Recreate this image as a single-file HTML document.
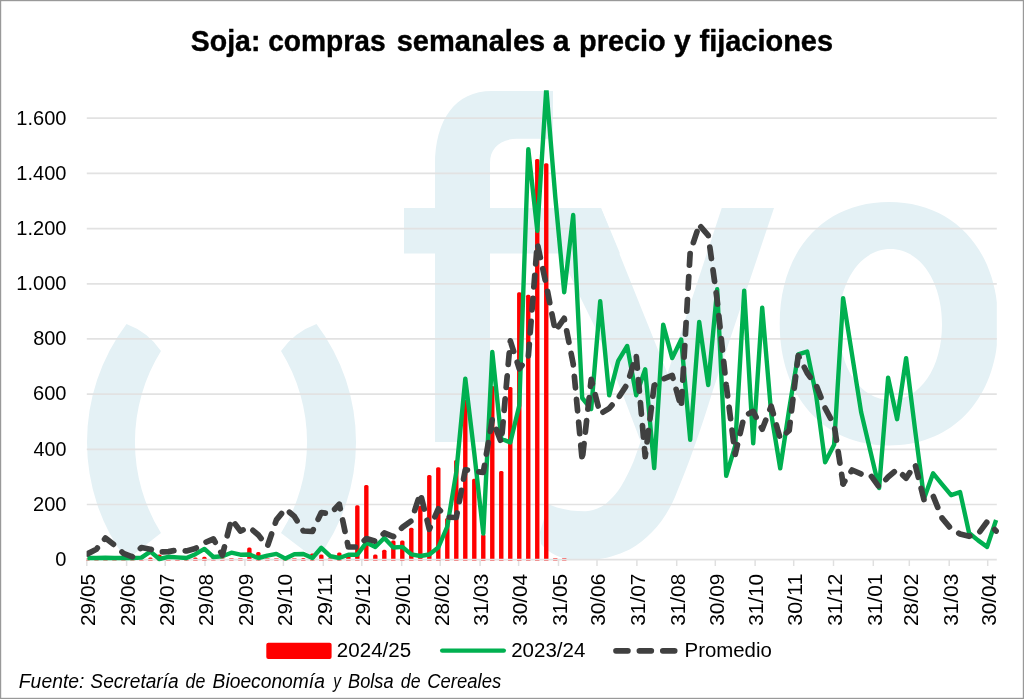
<!DOCTYPE html>
<html><head><meta charset="utf-8"><title>Soja: compras semanales a precio y fijaciones</title>
<style>
html,body{margin:0;padding:0;background:#fff;}
body{width:1024px;height:699px;overflow:hidden;font-family:"Liberation Sans",sans-serif;}
svg{display:block;will-change:transform;}
text{font-family:"Liberation Sans",sans-serif;fill:#000;}
</style></head><body>
<svg width="1024" height="699" viewBox="0 0 1024 699">
<defs><clipPath id="pc"><rect x="86.8" y="90.5" width="910.0" height="469.2"/></clipPath><clipPath id="pc2"><rect x="86.6" y="90.3" width="916.0" height="480"/></clipPath></defs>
<g fill="#e4f1f5" clip-path="url(#pc)">
<path d="M126.5,324 A196,196 0 0 0 126.5,560 L161,533 A172,172 0 0 1 161,351 Q148.2,332.1 126.5,324 Z"/>
<path d="M316.5,324 A196,196 0 0 1 316.5,560 L281,533 A172,172 0 0 0 281,351 Q294.3,332.1 316.5,324 Z"/>
<path d="M435,442 L435,253.5 L404,253.5 L404,208 L435,208 L435,165 C435,120 455,91 492,91 L553,91 L553,138.7 L517,138.7 C500,139 490,148 490,163 L490,208 L601,208 L620,253.5 L490,253.5 L490,442 Z"/>
<path d="M543,208 L601,208 L667.5,373.4 L721.7,208 L774,208 L713,390 C700,432 690,461 675,497 C665,520 650,538 629.6,549.6 C612,558 596,561 577.7,560.5 C565,560 550,555 541,544 L540,532 L548.5,504 C556,508 570,511.5 586,511.3 C597,510 603,506 606.7,503 C613,497 617,493 621,486.4 C626,478 630,470 633.5,461.5 L640.7,441.5 L624,397.7 L595.6,328.6 L579.7,296 L560,253.5 Z"/>
<path fill-rule="evenodd" d="M779.7,323.7 C779.7,250.7 823.4,202.0 889.0,202.0 C954.6,202.0 998.3,250.7 998.3,323.7 C998.3,396.7 954.6,445.4 889.0,445.4 C823.4,445.4 779.7,396.7 779.7,323.7 Z M838.8,324.5 C838.8,281.1 860.7,249.1 890.4,249.1 C920.1,249.1 942.0,281.1 942.0,324.5 C942.0,367.9 920.1,399.9 890.4,399.9 C860.7,399.9 838.8,367.9 838.8,324.5 Z"/>
</g>
<line x1="86.8" x2="996.8" y1="504.5" y2="504.5" stroke="#e2e2e2" stroke-width="1.7"/>
<line x1="86.8" x2="996.8" y1="449.3" y2="449.3" stroke="#e2e2e2" stroke-width="1.7"/>
<line x1="86.8" x2="996.8" y1="394.1" y2="394.1" stroke="#e2e2e2" stroke-width="1.7"/>
<line x1="86.8" x2="996.8" y1="338.9" y2="338.9" stroke="#e2e2e2" stroke-width="1.7"/>
<line x1="86.8" x2="996.8" y1="283.8" y2="283.8" stroke="#e2e2e2" stroke-width="1.7"/>
<line x1="86.8" x2="996.8" y1="228.6" y2="228.6" stroke="#e2e2e2" stroke-width="1.7"/>
<line x1="86.8" x2="996.8" y1="173.4" y2="173.4" stroke="#e2e2e2" stroke-width="1.7"/>
<line x1="86.8" x2="996.8" y1="118.2" y2="118.2" stroke="#e2e2e2" stroke-width="1.7"/>
<line x1="86.8" x2="86.8" y1="559.7" y2="566" stroke="#e0e0e0" stroke-width="1.5"/>
<line x1="126.6" x2="126.6" y1="559.7" y2="566" stroke="#e0e0e0" stroke-width="1.5"/>
<line x1="165.2" x2="165.2" y1="559.7" y2="566" stroke="#e0e0e0" stroke-width="1.5"/>
<line x1="205.0" x2="205.0" y1="559.7" y2="566" stroke="#e0e0e0" stroke-width="1.5"/>
<line x1="244.9" x2="244.9" y1="559.7" y2="566" stroke="#e0e0e0" stroke-width="1.5"/>
<line x1="283.4" x2="283.4" y1="559.7" y2="566" stroke="#e0e0e0" stroke-width="1.5"/>
<line x1="323.3" x2="323.3" y1="559.7" y2="566" stroke="#e0e0e0" stroke-width="1.5"/>
<line x1="361.8" x2="361.8" y1="559.7" y2="566" stroke="#e0e0e0" stroke-width="1.5"/>
<line x1="401.7" x2="401.7" y1="559.7" y2="566" stroke="#e0e0e0" stroke-width="1.5"/>
<line x1="440.2" x2="440.2" y1="559.7" y2="566" stroke="#e0e0e0" stroke-width="1.5"/>
<line x1="480.1" x2="480.1" y1="559.7" y2="566" stroke="#e0e0e0" stroke-width="1.5"/>
<line x1="518.6" x2="518.6" y1="559.7" y2="566" stroke="#e0e0e0" stroke-width="1.5"/>
<line x1="558.5" x2="558.5" y1="559.7" y2="566" stroke="#e0e0e0" stroke-width="1.5"/>
<line x1="597.0" x2="597.0" y1="559.7" y2="566" stroke="#e0e0e0" stroke-width="1.5"/>
<line x1="636.9" x2="636.9" y1="559.7" y2="566" stroke="#e0e0e0" stroke-width="1.5"/>
<line x1="676.7" x2="676.7" y1="559.7" y2="566" stroke="#e0e0e0" stroke-width="1.5"/>
<line x1="715.3" x2="715.3" y1="559.7" y2="566" stroke="#e0e0e0" stroke-width="1.5"/>
<line x1="755.1" x2="755.1" y1="559.7" y2="566" stroke="#e0e0e0" stroke-width="1.5"/>
<line x1="793.7" x2="793.7" y1="559.7" y2="566" stroke="#e0e0e0" stroke-width="1.5"/>
<line x1="833.5" x2="833.5" y1="559.7" y2="566" stroke="#e0e0e0" stroke-width="1.5"/>
<line x1="873.3" x2="873.3" y1="559.7" y2="566" stroke="#e0e0e0" stroke-width="1.5"/>
<line x1="909.3" x2="909.3" y1="559.7" y2="566" stroke="#e0e0e0" stroke-width="1.5"/>
<line x1="949.2" x2="949.2" y1="559.7" y2="566" stroke="#e0e0e0" stroke-width="1.5"/>
<line x1="987.7" x2="987.7" y1="559.7" y2="566" stroke="#e0e0e0" stroke-width="1.5"/>
<g fill="#ff0000" clip-path="url(#pc2)">
<rect x="85.24" y="558.1" width="4.4" height="2.9" rx="0.5" fill-opacity="0.62"/>
<rect x="94.24" y="558.1" width="4.4" height="2.9" rx="0.5" fill-opacity="0.62"/>
<rect x="103.23" y="558.1" width="4.4" height="2.9" rx="0.5" fill-opacity="0.62"/>
<rect x="112.23" y="558.1" width="4.4" height="2.9" rx="0.5" fill-opacity="0.62"/>
<rect x="121.23" y="558.1" width="4.4" height="2.9" rx="0.5" fill-opacity="0.62"/>
<rect x="130.22" y="558.1" width="4.4" height="2.9" rx="0.5" fill-opacity="0.62"/>
<rect x="139.22" y="558.1" width="4.4" height="2.9" rx="0.5" fill-opacity="0.62"/>
<path d="M148.21,560.7 L148.21,558.9 Q148.21,557.4 149.71,557.4 L151.11,557.4 Q152.61,557.4 152.61,558.9 L152.61,560.7 Z"/>
<path d="M157.21,560.7 L157.21,556.0 Q157.21,554.5 158.71,554.5 L160.11,554.5 Q161.61,554.5 161.61,556.0 L161.61,560.7 Z"/>
<path d="M166.21,560.7 L166.21,559.5 Q166.21,558.0 167.71,558.0 L169.11,558.0 Q170.61,558.0 170.61,559.5 L170.61,560.7 Z"/>
<path d="M175.20,560.7 L175.20,559.5 Q175.20,558.0 176.70,558.0 L178.10,558.0 Q179.60,558.0 179.60,559.5 L179.60,560.7 Z"/>
<path d="M184.20,560.7 L184.20,559.5 Q184.20,558.0 185.70,558.0 L187.10,558.0 Q188.60,558.0 188.60,559.5 L188.60,560.7 Z"/>
<path d="M193.20,560.7 L193.20,558.9 Q193.20,557.4 194.70,557.4 L196.10,557.4 Q197.60,557.4 197.60,558.9 L197.60,560.7 Z"/>
<path d="M202.19,560.7 L202.19,558.3 Q202.19,556.8 203.69,556.8 L205.09,556.8 Q206.59,556.8 206.59,558.3 L206.59,560.7 Z"/>
<rect x="211.19" y="558.1" width="4.4" height="2.9" rx="0.5" fill-opacity="0.62"/>
<rect x="220.19" y="558.1" width="4.4" height="2.9" rx="0.5" fill-opacity="0.62"/>
<rect x="229.18" y="558.1" width="4.4" height="2.9" rx="0.5" fill-opacity="0.62"/>
<rect x="238.18" y="558.1" width="4.4" height="2.9" rx="0.5" fill-opacity="0.62"/>
<path d="M247.18,560.7 L247.18,548.9 Q247.18,547.4 248.68,547.4 L250.08,547.4 Q251.58,547.4 251.58,548.9 L251.58,560.7 Z"/>
<path d="M256.17,560.7 L256.17,553.6 Q256.17,552.1 257.67,552.1 L259.07,552.1 Q260.57,552.1 260.57,553.6 L260.57,560.7 Z"/>
<rect x="265.17" y="558.1" width="4.4" height="2.9" rx="0.5" fill-opacity="0.62"/>
<rect x="274.16" y="558.1" width="4.4" height="2.9" rx="0.5" fill-opacity="0.62"/>
<rect x="283.16" y="558.1" width="4.4" height="2.9" rx="0.5" fill-opacity="0.62"/>
<rect x="292.16" y="558.1" width="4.4" height="2.9" rx="0.5" fill-opacity="0.62"/>
<path d="M301.15,560.7 L301.15,559.5 Q301.15,558.0 302.65,558.0 L304.05,558.0 Q305.55,558.0 305.55,559.5 L305.55,560.7 Z"/>
<path d="M310.15,560.7 L310.15,554.9 Q310.15,553.4 311.65,553.4 L313.05,553.4 Q314.55,553.4 314.55,554.9 L314.55,560.7 Z"/>
<path d="M319.15,560.7 L319.15,555.9 Q319.15,554.4 320.65,554.4 L322.05,554.4 Q323.55,554.4 323.55,555.9 L323.55,560.7 Z"/>
<rect x="328.14" y="558.1" width="4.4" height="2.9" rx="0.5" fill-opacity="0.62"/>
<path d="M337.14,560.7 L337.14,554.0 Q337.14,552.5 338.64,552.5 L340.04,552.5 Q341.54,552.5 341.54,554.0 L341.54,560.7 Z"/>
<path d="M346.14,560.7 L346.14,557.5 Q346.14,556.0 347.64,556.0 L349.04,556.0 Q350.54,556.0 350.54,557.5 L350.54,560.7 Z"/>
<path d="M355.13,560.7 L355.13,506.8 Q355.13,505.3 356.63,505.3 L358.03,505.3 Q359.53,505.3 359.53,506.8 L359.53,560.7 Z"/>
<path d="M364.13,560.7 L364.13,486.5 Q364.13,485.0 365.63,485.0 L367.03,485.0 Q368.53,485.0 368.53,486.5 L368.53,560.7 Z"/>
<path d="M373.12,560.7 L373.12,555.9 Q373.12,554.4 374.62,554.4 L376.02,554.4 Q377.52,554.4 377.52,555.9 L377.52,560.7 Z"/>
<path d="M382.12,560.7 L382.12,551.2 Q382.12,549.7 383.62,549.7 L385.02,549.7 Q386.52,549.7 386.52,551.2 L386.52,560.7 Z"/>
<path d="M391.12,560.7 L391.12,541.9 Q391.12,540.4 392.62,540.4 L394.02,540.4 Q395.52,540.4 395.52,541.9 L395.52,560.7 Z"/>
<path d="M400.11,560.7 L400.11,541.9 Q400.11,540.4 401.61,540.4 L403.01,540.4 Q404.51,540.4 404.51,541.9 L404.51,560.7 Z"/>
<path d="M409.11,560.7 L409.11,529.3 Q409.11,527.8 410.61,527.8 L412.01,527.8 Q413.51,527.8 413.51,529.3 L413.51,560.7 Z"/>
<path d="M418.11,560.7 L418.11,507.5 Q418.11,506.0 419.61,506.0 L421.01,506.0 Q422.51,506.0 422.51,507.5 L422.51,560.7 Z"/>
<path d="M427.10,560.7 L427.10,476.6 Q427.10,475.1 428.60,475.1 L430.00,475.1 Q431.50,475.1 431.50,476.6 L431.50,560.7 Z"/>
<path d="M436.10,560.7 L436.10,468.7 Q436.10,467.2 437.60,467.2 L439.00,467.2 Q440.50,467.2 440.50,468.7 L440.50,560.7 Z"/>
<path d="M445.10,560.7 L445.10,519.5 Q445.10,518.0 446.60,518.0 L448.00,518.0 Q449.50,518.0 449.50,519.5 L449.50,560.7 Z"/>
<path d="M454.09,560.7 L454.09,461.5 Q454.09,460.0 455.59,460.0 L456.99,460.0 Q458.49,460.0 458.49,461.5 L458.49,560.7 Z"/>
<path d="M463.09,560.7 L463.09,401.5 Q463.09,400.0 464.59,400.0 L465.99,400.0 Q467.49,400.0 467.49,401.5 L467.49,560.7 Z"/>
<path d="M472.09,560.7 L472.09,480.2 Q472.09,478.7 473.59,478.7 L474.99,478.7 Q476.49,478.7 476.49,480.2 L476.49,560.7 Z"/>
<path d="M481.08,560.7 L481.08,536.0 Q481.08,534.5 482.58,534.5 L483.98,534.5 Q485.48,534.5 485.48,536.0 L485.48,560.7 Z"/>
<path d="M490.08,560.7 L490.08,387.5 Q490.08,386.0 491.58,386.0 L492.98,386.0 Q494.48,386.0 494.48,387.5 L494.48,560.7 Z"/>
<path d="M499.07,560.7 L499.07,472.5 Q499.07,471.0 500.57,471.0 L501.97,471.0 Q503.47,471.0 503.47,472.5 L503.47,560.7 Z"/>
<path d="M508.07,560.7 L508.07,388.5 Q508.07,387.0 509.57,387.0 L510.97,387.0 Q512.47,387.0 512.47,388.5 L512.47,560.7 Z"/>
<path d="M517.07,560.7 L517.07,293.8 Q517.07,292.3 518.57,292.3 L519.97,292.3 Q521.47,292.3 521.47,293.8 L521.47,560.7 Z"/>
<path d="M526.06,560.7 L526.06,296.2 Q526.06,294.7 527.56,294.7 L528.96,294.7 Q530.46,294.7 530.46,296.2 L530.46,560.7 Z"/>
<path d="M535.06,560.7 L535.06,160.5 Q535.06,159.0 536.56,159.0 L537.96,159.0 Q539.46,159.0 539.46,160.5 L539.46,560.7 Z"/>
<path d="M544.06,560.7 L544.06,164.7 Q544.06,163.2 545.56,163.2 L546.96,163.2 Q548.46,163.2 548.46,164.7 L548.46,560.7 Z"/>
<rect x="553.05" y="558.1" width="4.4" height="2.9" rx="0.5" fill-opacity="0.62"/>
<rect x="562.05" y="558.1" width="4.4" height="2.9" rx="0.5" fill-opacity="0.62"/>
</g>
<line x1="86.8" x2="996.8" y1="559.7" y2="559.7" stroke="#e2e2e2" stroke-width="1.7"/>
<g clip-path="url(#pc2)">
<polyline points="87.4,558.0 96.4,558.0 105.4,557.7 114.4,558.0 123.4,558.0 132.4,558.0 141.4,557.6 150.4,551.6 159.4,559.0 168.4,556.8 177.4,557.4 186.4,558.0 195.4,554.2 204.4,548.9 213.4,557.0 222.4,556.2 231.4,552.7 240.4,554.7 249.4,554.5 258.4,558.0 267.4,555.6 276.4,553.9 285.4,558.6 294.4,554.2 303.4,554.0 312.4,558.1 321.3,547.8 330.3,556.2 339.3,558.0 348.3,554.7 357.3,554.7 366.3,542.6 375.3,546.9 384.3,538.0 393.3,547.5 402.3,546.9 411.3,554.4 420.3,556.0 429.3,554.5 438.3,547.5 447.3,526.5 456.3,472.0 465.3,378.6 474.3,453.4 483.3,533.6 492.3,351.9 501.3,438.8 510.3,442.4 519.3,405.5 528.3,149.3 537.3,230.8 546.3,88.0 555.3,197.0 564.2,292.3 573.2,215.0 582.2,398.0 591.2,409.0 600.2,301.3 609.2,395.4 618.2,360.9 627.2,346.0 636.2,395.3 645.2,369.3 654.2,468.1 663.2,324.6 672.2,358.1 681.2,339.5 690.2,439.9 699.2,321.9 708.2,385.0 717.2,289.3 726.2,475.9 735.2,445.8 744.2,290.6 753.2,443.3 762.2,307.7 771.2,413.6 780.2,468.4 789.2,409.0 798.2,354.4 807.2,351.6 816.1,395.0 825.1,462.3 834.1,444.8 843.1,298.2 852.1,355.0 861.1,412.0 870.1,450.0 879.1,488.0 888.1,377.6 897.1,419.2 906.1,358.1 915.1,430.0 924.1,498.4 933.1,473.3 942.1,484.3 951.1,495.2 960.1,492.1 969.1,533.0 978.1,540.4 987.1,546.9 996.1,520.0" fill="none" stroke="#00b050" stroke-width="4.4" stroke-linejoin="round" stroke-linecap="butt"/>
<polyline points="87.4,553.9 96.4,549.2 105.4,538.1 114.4,545.1 123.4,553.3 132.4,556.8 141.4,547.5 150.4,549.2 159.4,552.1 168.4,551.6 177.4,550.0 186.4,551.0 195.4,548.5 204.4,542.7 213.4,539.0 222.4,555.0 231.4,519.3 240.4,531.0 249.4,527.3 258.4,535.0 267.4,546.3 276.4,519.9 285.4,508.8 294.4,516.4 303.4,531.0 312.4,531.5 321.3,512.5 330.3,514.0 339.3,504.2 348.3,547.0 357.3,547.0 366.3,538.5 375.3,541.3 384.3,533.0 393.3,536.7 402.3,527.4 411.3,520.9 420.3,493.2 429.3,529.3 438.3,508.8 447.3,517.2 456.3,517.5 465.3,469.8 474.3,471.3 483.3,472.3 492.3,419.3 501.3,442.4 510.3,340.9 519.3,368.9 528.3,356.7 537.3,243.6 546.3,285.0 555.3,331.2 564.2,318.3 573.2,364.0 582.2,460.2" fill="none" stroke="#404040" stroke-width="5.7" stroke-linejoin="round" stroke-linecap="round" stroke-dasharray="11.6 11.45" stroke-dashoffset="0.00"/>
<polyline points="582.2,460.2 591.2,379.3 600.2,413.9 609.2,408.3 618.2,398.1 627.2,384.2 636.2,355.3 645.2,456.7 654.2,385.4 663.2,379.0 672.2,375.4 681.2,407.4 690.2,252.0 699.2,225.0" fill="none" stroke="#404040" stroke-width="5.7" stroke-linejoin="round" stroke-linecap="round" stroke-dasharray="11.6 11.45" stroke-dashoffset="17.87"/>
<polyline points="699.2,225.0 708.2,235.3 717.2,300.4 726.2,385.0 735.2,454.5 744.2,416.0 753.2,411.4 762.2,429.2 771.2,406.2 780.2,438.7 789.2,430.3 798.2,355.5 807.2,373.0 816.1,385.0 825.1,408.0 834.1,424.8 843.1,483.9" fill="none" stroke="#404040" stroke-width="5.7" stroke-linejoin="round" stroke-linecap="round" stroke-dasharray="11.6 11.45" stroke-dashoffset="20.55"/>
<polyline points="843.1,483.9 852.1,470.0 861.1,474.0 870.1,474.6 879.1,487.0 888.1,477.0 897.1,469.4 906.1,478.3 915.1,464.4 924.1,500.2 933.1,495.8 942.1,518.1 951.1,528.9 960.1,533.9 969.1,536.3 978.1,534.0 987.1,521.8 996.1,531.1" fill="none" stroke="#404040" stroke-width="5.7" stroke-linejoin="round" stroke-linecap="round" stroke-dasharray="11.6 11.45" stroke-dashoffset="8.40"/>
</g>
<text x="55.30" y="566.0" font-size="19.4" textLength="11.18" lengthAdjust="spacingAndGlyphs">0</text>
<text x="33.00" y="510.8" font-size="19.4" textLength="33.48" lengthAdjust="spacingAndGlyphs">200</text>
<text x="33.56" y="455.6" font-size="19.4" textLength="32.90" lengthAdjust="spacingAndGlyphs">400</text>
<text x="33.00" y="400.4" font-size="19.4" textLength="33.48" lengthAdjust="spacingAndGlyphs">600</text>
<text x="33.15" y="345.2" font-size="19.4" textLength="33.32" lengthAdjust="spacingAndGlyphs">800</text>
<text x="16.30" y="290.1" font-size="19.4" textLength="50.16" lengthAdjust="spacingAndGlyphs">1.000</text>
<text x="16.30" y="234.9" font-size="19.4" textLength="50.16" lengthAdjust="spacingAndGlyphs">1.200</text>
<text x="16.30" y="179.7" font-size="19.4" textLength="50.16" lengthAdjust="spacingAndGlyphs">1.400</text>
<text x="16.30" y="124.5" font-size="19.4" textLength="50.16" lengthAdjust="spacingAndGlyphs">1.600</text>
<text transform="translate(95.1,625.0) rotate(-90)" x="-1.04" font-size="19.4" textLength="52.18" lengthAdjust="spacingAndGlyphs">29/05</text>
<text transform="translate(134.9,625.0) rotate(-90)" x="-1.04" font-size="19.4" textLength="52.23" lengthAdjust="spacingAndGlyphs">29/06</text>
<text transform="translate(173.5,625.0) rotate(-90)" x="-1.05" font-size="19.4" textLength="52.39" lengthAdjust="spacingAndGlyphs">29/07</text>
<text transform="translate(213.3,625.0) rotate(-90)" x="-1.04" font-size="19.4" textLength="52.23" lengthAdjust="spacingAndGlyphs">29/08</text>
<text transform="translate(253.2,625.0) rotate(-90)" x="-1.04" font-size="19.4" textLength="52.29" lengthAdjust="spacingAndGlyphs">29/09</text>
<text transform="translate(291.7,625.0) rotate(-90)" x="-1.04" font-size="19.4" textLength="52.12" lengthAdjust="spacingAndGlyphs">29/10</text>
<text transform="translate(331.6,625.0) rotate(-90)" x="-1.08" font-size="19.4" textLength="52.42" lengthAdjust="spacingAndGlyphs">29/11</text>
<text transform="translate(370.1,625.0) rotate(-90)" x="-1.05" font-size="19.4" textLength="52.39" lengthAdjust="spacingAndGlyphs">29/12</text>
<text transform="translate(410.0,625.0) rotate(-90)" x="-1.05" font-size="19.4" textLength="52.34" lengthAdjust="spacingAndGlyphs">29/01</text>
<text transform="translate(448.5,625.0) rotate(-90)" x="-1.05" font-size="19.4" textLength="52.39" lengthAdjust="spacingAndGlyphs">28/02</text>
<text transform="translate(488.4,625.0) rotate(-90)" x="-0.78" font-size="19.4" textLength="51.96" lengthAdjust="spacingAndGlyphs">31/03</text>
<text transform="translate(526.9,625.0) rotate(-90)" x="-0.77" font-size="19.4" textLength="51.64" lengthAdjust="spacingAndGlyphs">30/04</text>
<text transform="translate(566.8,625.0) rotate(-90)" x="-0.78" font-size="19.4" textLength="51.91" lengthAdjust="spacingAndGlyphs">31/05</text>
<text transform="translate(605.3,625.0) rotate(-90)" x="-0.78" font-size="19.4" textLength="51.96" lengthAdjust="spacingAndGlyphs">30/06</text>
<text transform="translate(645.2,625.0) rotate(-90)" x="-0.78" font-size="19.4" textLength="52.12" lengthAdjust="spacingAndGlyphs">31/07</text>
<text transform="translate(685.0,625.0) rotate(-90)" x="-0.78" font-size="19.4" textLength="51.96" lengthAdjust="spacingAndGlyphs">31/08</text>
<text transform="translate(723.6,625.0) rotate(-90)" x="-0.78" font-size="19.4" textLength="52.02" lengthAdjust="spacingAndGlyphs">30/09</text>
<text transform="translate(763.4,625.0) rotate(-90)" x="-0.78" font-size="19.4" textLength="51.85" lengthAdjust="spacingAndGlyphs">31/10</text>
<text transform="translate(802.0,625.0) rotate(-90)" x="-0.81" font-size="19.4" textLength="52.14" lengthAdjust="spacingAndGlyphs">30/11</text>
<text transform="translate(841.8,625.0) rotate(-90)" x="-0.78" font-size="19.4" textLength="52.12" lengthAdjust="spacingAndGlyphs">31/12</text>
<text transform="translate(881.6,625.0) rotate(-90)" x="-0.78" font-size="19.4" textLength="52.07" lengthAdjust="spacingAndGlyphs">31/01</text>
<text transform="translate(917.6,625.0) rotate(-90)" x="-1.05" font-size="19.4" textLength="52.39" lengthAdjust="spacingAndGlyphs">28/02</text>
<text transform="translate(957.5,625.0) rotate(-90)" x="-0.78" font-size="19.4" textLength="51.96" lengthAdjust="spacingAndGlyphs">31/03</text>
<text transform="translate(996.0,625.0) rotate(-90)" x="-0.77" font-size="19.4" textLength="51.64" lengthAdjust="spacingAndGlyphs">30/04</text>
<text x="190.85" y="51" font-size="30.2" font-weight="bold" stroke="#000" stroke-width="0.4" textLength="69.55" lengthAdjust="spacingAndGlyphs">Soja:</text>
<text x="268.17" y="51" font-size="30.2" font-weight="bold" stroke="#000" stroke-width="0.4" textLength="117.49" lengthAdjust="spacingAndGlyphs">compras</text>
<text x="396.68" y="51" font-size="30.2" font-weight="bold" stroke="#000" stroke-width="0.4" textLength="148.58" lengthAdjust="spacingAndGlyphs">semanales</text>
<text x="552.75" y="51" font-size="30.2" font-weight="bold" stroke="#000" stroke-width="0.4">a</text>
<text x="579.12" y="51" font-size="30.2" font-weight="bold" stroke="#000" stroke-width="0.4" textLength="86.59" lengthAdjust="spacingAndGlyphs">precio</text>
<text x="674.03" y="51" font-size="30.2" font-weight="bold" stroke="#000" stroke-width="0.4">y</text>
<text x="699.49" y="51" font-size="30.2" font-weight="bold" stroke="#000" stroke-width="0.4" textLength="133.58" lengthAdjust="spacingAndGlyphs">fijaciones</text>
<rect x="266.3" y="642.8" width="65.3" height="16.2" rx="2" fill="#ff0000"/>
<text x="336.87" y="656.8" font-size="19.4" textLength="74.30" lengthAdjust="spacingAndGlyphs">2024/25</text>
<line x1="442.2" x2="503.8" y1="650.6" y2="650.6" stroke="#00b050" stroke-width="4.4" stroke-linecap="round"/>
<text x="511.17" y="656.8" font-size="19.4" textLength="74.14" lengthAdjust="spacingAndGlyphs">2023/24</text>
<line x1="616" x2="675" y1="650.8" y2="650.8" stroke="#404040" stroke-width="5.7" stroke-linecap="round" stroke-dasharray="11.9 11.5"/>
<text x="684.52" y="657.0" font-size="19.3" textLength="87.35" lengthAdjust="spacingAndGlyphs">Promedio</text>
<text x="18.82" y="688.0" font-size="19.4" font-style="italic" textLength="65.58" lengthAdjust="spacingAndGlyphs">Fuente:</text>
<text x="90.37" y="688.0" font-size="19.4" font-style="italic" textLength="88.37" lengthAdjust="spacingAndGlyphs">Secretaría</text>
<text x="185.52" y="688.0" font-size="19.4" font-style="italic" textLength="19.74" lengthAdjust="spacingAndGlyphs">de</text>
<text x="212.62" y="688.0" font-size="19.4" font-style="italic" textLength="112.24" lengthAdjust="spacingAndGlyphs">Bioeconomía</text>
<text x="333.15" y="688.0" font-size="19.4" font-style="italic" textLength="7.69" lengthAdjust="spacingAndGlyphs">y</text>
<text x="348.05" y="688.0" font-size="19.4" font-style="italic" textLength="45.46" lengthAdjust="spacingAndGlyphs">Bolsa</text>
<text x="400.82" y="688.0" font-size="19.4" font-style="italic" textLength="19.74" lengthAdjust="spacingAndGlyphs">de</text>
<text x="427.28" y="688.0" font-size="19.4" font-style="italic" textLength="73.88" lengthAdjust="spacingAndGlyphs">Cereales</text>
<rect x="0.6" y="0.6" width="1022.8" height="697.8" fill="none" stroke="#999999" stroke-width="1.2"/>
</svg>
</body></html>
